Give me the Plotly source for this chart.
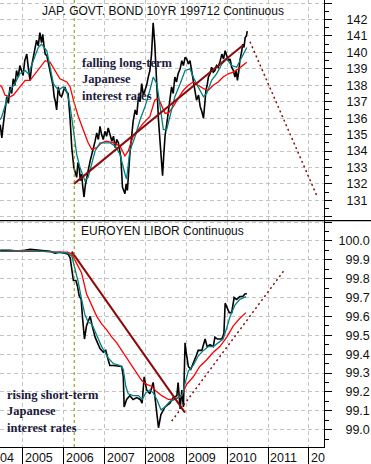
import plotly.graph_objects as go

# ---------------- data (decimal years) ----------------
bond_dates = [2004.45, 2004.49, 2004.52, 2004.57, 2004.61, 2004.65, 2004.69, 2004.73, 2004.77, 2004.81,
              2004.85, 2004.89, 2004.93, 2004.97, 2005.01, 2005.05, 2005.10, 2005.14, 2005.18, 2005.22,
              2005.26, 2005.30, 2005.34, 2005.38, 2005.42, 2005.46, 2005.49, 2005.52, 2005.55, 2005.59,
              2005.63, 2005.67, 2005.71, 2005.74, 2005.77, 2005.80, 2005.83, 2005.87, 2005.91, 2005.95,
              2005.99, 2006.03, 2006.07, 2006.11, 2006.16, 2006.20, 2006.25, 2006.28, 2006.32, 2006.35,
              2006.38, 2006.41, 2006.44, 2006.47, 2006.50, 2006.53, 2006.56, 2006.60, 2006.65, 2006.69,
              2006.73, 2006.77, 2006.81, 2006.85, 2006.89, 2006.93, 2006.97, 2007.01, 2007.05, 2007.09,
              2007.13, 2007.18, 2007.22, 2007.26, 2007.30, 2007.34, 2007.40, 2007.44, 2007.47, 2007.50,
              2007.53, 2007.56, 2007.62, 2007.66, 2007.70, 2007.75, 2007.79, 2007.83, 2007.87, 2007.91,
              2007.95, 2007.99, 2008.03, 2008.07, 2008.11, 2008.15, 2008.19, 2008.23, 2008.28, 2008.32,
              2008.36, 2008.40, 2008.42, 2008.45, 2008.48, 2008.52, 2008.56, 2008.60, 2008.64, 2008.68,
              2008.72, 2008.76, 2008.80, 2008.85, 2008.89, 2008.93, 2008.97, 2009.01, 2009.05, 2009.09,
              2009.13, 2009.17, 2009.21, 2009.25, 2009.30, 2009.34, 2009.38, 2009.42, 2009.45, 2009.48,
              2009.51, 2009.54, 2009.58, 2009.62, 2009.66, 2009.70, 2009.74, 2009.78, 2009.83, 2009.87,
              2009.91, 2009.95, 2009.99, 2010.03, 2010.07, 2010.11, 2010.15, 2010.19, 2010.22, 2010.25,
              2010.28, 2010.31, 2010.35, 2010.38, 2010.41, 2010.44, 2010.47, 2010.49]
bond_price = [135.6, 134.8, 135.5, 136.4, 137.3, 136.9, 137.9, 137.5, 138.4, 138.0,
              138.9, 138.5, 139.2, 138.9, 138.6, 139.5, 139.9, 139.0, 138.3, 139.2,
              139.7, 140.2, 140.75, 140.4, 141.2, 140.6, 141.1, 140.4, 139.9, 139.8,
              139.3, 138.9, 138.3, 138.0, 137.3, 137.0, 136.5, 137.9, 137.4, 137.3,
              137.6, 137.9, 137.6, 137.5, 135.9, 134.2, 133.0, 132.7, 132.4, 133.3,
              133.0, 132.2, 132.6, 131.8, 131.2, 131.9, 132.4, 132.8, 133.4, 133.9,
              134.2, 134.6, 135.1, 134.7, 135.5, 135.0, 134.7, 135.2, 134.9, 135.4,
              135.1, 134.6, 134.9, 134.2, 134.7, 134.5, 133.6, 131.8, 131.6, 131.4,
              132.0, 131.6, 133.8, 134.8, 135.8, 136.5, 136.2, 137.3, 137.0, 138.1,
              137.4, 137.7, 138.0, 138.5, 138.9, 139.9, 141.8, 140.5, 137.5, 135.9,
              134.5, 133.3, 132.5, 133.8, 134.9, 135.6, 136.5, 137.0, 137.9, 137.5,
              138.5, 138.2, 138.7, 139.0, 139.5, 139.2, 139.7, 139.6, 139.3, 139.5,
              138.9, 138.3, 137.7, 137.1, 137.4, 136.7, 136.4, 136.0, 136.8, 137.7,
              138.0, 138.5, 138.7, 139.1, 138.8, 138.9, 139.2, 139.1, 139.5, 139.9,
              139.6, 140.1, 139.8, 139.5, 139.6, 139.1, 138.9, 138.5, 138.9, 138.3,
              138.8, 139.5, 140.0, 140.5, 140.3, 140.9, 141.0, 141.3]

bond_fast_dates = [2004.45, 2004.49, 2004.61, 2004.69, 2004.81, 2004.93, 2005.06, 2005.14, 2005.26, 2005.38,
                   2005.46, 2005.59, 2005.67, 2005.75, 2005.87, 2005.99, 2006.07, 2006.16, 2006.24, 2006.32,
                   2006.40, 2006.52, 2006.60, 2006.69, 2006.77, 2006.89, 2007.01, 2007.13, 2007.26, 2007.38,
                   2007.50, 2007.54, 2007.62, 2007.75, 2007.87, 2007.99, 2008.11, 2008.19, 2008.28, 2008.36,
                   2008.44, 2008.52, 2008.60, 2008.72, 2008.85, 2008.97, 2009.09, 2009.17, 2009.29, 2009.42,
                   2009.50, 2009.62, 2009.74, 2009.87, 2009.99, 2010.11, 2010.23, 2010.35, 2010.48]
bond_fast_avg = [135.9, 136.1, 137.1, 137.7, 138.1, 138.7, 138.9, 138.7, 139.5, 140.3,
                 140.5, 140.1, 139.1, 138.1, 137.7, 137.9, 137.7, 136.7, 135.3, 133.8,
                 133.0, 132.2, 132.4, 133.2, 134.0, 134.5, 134.5, 134.5, 134.3, 133.8,
                 132.6, 132.3, 134.0, 134.9, 135.9, 136.7, 137.7, 138.5, 138.1, 136.7,
                 135.3, 135.3, 136.1, 137.3, 138.1, 138.9, 139.0, 138.5, 137.9, 137.3,
                 137.5, 138.3, 138.7, 139.3, 139.6, 139.2, 139.1, 139.7, 140.3]

bond_slow_dates = [2004.45, 2004.49, 2004.57, 2004.69, 2004.77, 2004.89, 2005.06, 2005.18, 2005.30, 2005.42,
                   2005.55, 2005.67, 2005.79, 2005.91, 2006.08, 2006.16, 2006.24, 2006.36, 2006.48, 2006.60,
                   2006.69, 2006.81, 2006.93, 2007.05, 2007.22, 2007.38, 2007.50, 2007.58, 2007.70, 2007.83,
                   2007.95, 2008.11, 2008.23, 2008.32, 2008.40, 2008.48, 2008.56, 2008.68, 2008.80, 2008.93,
                   2009.05, 2009.17, 2009.29, 2009.42, 2009.54, 2009.66, 2009.78, 2009.90, 2010.03, 2010.15,
                   2010.27, 2010.39, 2010.48]
bond_slow_avg = [138.0, 137.9, 137.4, 137.3, 137.4, 137.8, 138.3, 138.3, 138.7, 139.1,
                 139.5, 139.4, 138.9, 138.4, 138.2, 137.9, 137.1, 136.1, 135.3, 134.5,
                 134.1, 134.2, 134.5, 134.6, 134.5, 134.3, 133.7, 134.0, 134.9, 135.3,
                 135.7, 136.1, 137.1, 137.2, 136.7, 136.3, 136.3, 136.7, 137.2, 137.7,
                 138.0, 138.2, 138.0, 137.8, 137.7, 138.0, 138.2, 138.5, 138.7, 138.8,
                 139.0, 139.2, 139.4]

bond_trend_dates = [2006.254, 2010.394]
bond_trend_vals = [132.0, 140.45]
bond_proj_dates = [2010.557, 2012.188]
bond_proj_vals = [140.65, 131.3]

libor_dates = [2004.45, 2004.49, 2004.69, 2004.93, 2005.18, 2005.42, 2005.67, 2005.79, 2005.91, 2006.03,
               2006.11, 2006.16, 2006.20, 2006.24, 2006.30, 2006.34, 2006.38, 2006.43, 2006.46, 2006.51,
               2006.56, 2006.60, 2006.65, 2006.70, 2006.77, 2006.83, 2006.89, 2006.97, 2007.03, 2007.09,
               2007.13, 2007.22, 2007.34, 2007.42, 2007.46, 2007.48, 2007.54, 2007.62, 2007.70, 2007.79,
               2007.87, 2007.92, 2007.97, 2008.03, 2008.11, 2008.19, 2008.23, 2008.28, 2008.32, 2008.38,
               2008.48, 2008.60, 2008.68, 2008.77, 2008.80, 2008.85, 2008.89, 2008.93, 2008.97, 2008.99,
               2009.05, 2009.11, 2009.17, 2009.24, 2009.29, 2009.38, 2009.46, 2009.51, 2009.58, 2009.66,
               2009.70, 2009.76, 2009.87, 2009.92, 2009.95, 2009.99, 2010.05, 2010.11, 2010.17, 2010.23,
               2010.31, 2010.38, 2010.44, 2010.48]
libor_price = [99.95, 99.95, 99.95, 99.945, 99.955, 99.95, 99.945, 99.935, 99.94, 99.935,
               99.93, 99.91, 99.86, 99.79, 99.79, 99.76, 99.71, 99.69, 99.60, 99.48,
               99.55, 99.57, 99.60, 99.55, 99.49, 99.46, 99.43, 99.41, 99.42, 99.37,
               99.34, 99.34, 99.335, 99.335, 99.28, 99.12, 99.16, 99.18, 99.16, 99.17,
               99.16, 99.14, 99.28, 99.21, 99.19, 99.25, 99.18, 99.07, 99.01, 99.08,
               99.12, 99.14, 99.17, 99.18, 99.25, 99.11, 99.21, 99.12, 99.46, 99.42,
               99.335, 99.32, 99.35, 99.39, 99.42, 99.42, 99.48, 99.44, 99.45, 99.44,
               99.49, 99.48, 99.48, 99.51, 99.67, 99.65, 99.62, 99.62, 99.70, 99.69,
               99.705, 99.705, 99.72, 99.72]

libor_fast_dates = [2004.45, 2005.00, 2005.50, 2005.90, 2006.10, 2006.20, 2006.28, 2006.36, 2006.44, 2006.52,
                    2006.60, 2006.69, 2006.77, 2006.85, 2006.93, 2007.01, 2007.09, 2007.22, 2007.38, 2007.46,
                    2007.52, 2007.58, 2007.70, 2007.83, 2007.92, 2008.01, 2008.11, 2008.19, 2008.28, 2008.38,
                    2008.48, 2008.60, 2008.72, 2008.89, 2008.97, 2009.05, 2009.17, 2009.29, 2009.42, 2009.54,
                    2009.66, 2009.78, 2009.90, 2009.99, 2010.07, 2010.19, 2010.31, 2010.46]
libor_fast_avg = [99.945, 99.95, 99.945, 99.94, 99.935, 99.92, 99.85, 99.78, 99.69, 99.61,
                  99.57, 99.56, 99.52, 99.48, 99.44, 99.41, 99.38, 99.35, 99.34, 99.32,
                  99.23, 99.19, 99.18, 99.18, 99.16, 99.195, 99.21, 99.195, 99.16, 99.105,
                  99.12, 99.15, 99.16, 99.18, 99.25, 99.31, 99.34, 99.39, 99.42, 99.44,
                  99.44, 99.46, 99.48, 99.54, 99.60, 99.66, 99.69, 99.705]

libor_slow_dates = [2004.45, 2005.00, 2005.50, 2005.90, 2006.10, 2006.20, 2006.32, 2006.44, 2006.56, 2006.69,
                    2006.81, 2006.93, 2007.05, 2007.18, 2007.30, 2007.42, 2007.54, 2007.67, 2007.79, 2007.91,
                    2008.03, 2008.15, 2008.28, 2008.40, 2008.56, 2008.72, 2008.89, 2009.01, 2009.17, 2009.33,
                    2009.50, 2009.66, 2009.82, 2009.99, 2010.15, 2010.31, 2010.46]
libor_slow_avg = [99.945, 99.945, 99.945, 99.94, 99.94, 99.93, 99.88, 99.83, 99.72, 99.655,
                  99.60, 99.56, 99.53, 99.49, 99.46, 99.42, 99.38, 99.335, 99.30, 99.26,
                  99.24, 99.23, 99.20, 99.18, 99.16, 99.16, 99.18, 99.24, 99.28, 99.335,
                  99.37, 99.41, 99.44, 99.49, 99.55, 99.59, 99.62]

libor_trend_dates = [2006.198, 2008.968]
libor_trend_vals = [99.943, 99.09]
libor_proj_dates = [2008.643, 2011.413]
libor_proj_vals = [99.045, 99.85]

marker_date = 2006.26

year_ticks = [2005, 2006, 2007, 2008, 2009, 2010, 2011, 2012]
year_labels = ["2005", "2006", "2007", "2008", "2009", "2010", "2011", "20"]
first_year_label = "04"

bond_tickvals = list(range(130, 144))
bond_ticktext = [str(v) if 131 <= v <= 142 else "" for v in bond_tickvals]
libor_tickvals = [round(99.0 + 0.1 * i, 1) for i in range(12)]
libor_ticktext = [("%.1f" % v if v >= 100 else "\u2007%.1f" % v) if v <= 100.0 else "" for v in libor_tickvals]

top_title = "JAP. GOVT. BOND 10YR 199712 Continuous"
bottom_title = "EUROYEN LIBOR Continuous"
top_note = "falling long-term<br>Japanese<br>interest rates"
bottom_note = "rising short-term<br>Japanese<br>interest rates"

# ---------------- styling ----------------
W, H = 371, 464
ML, MR, MT, MB = 0, 47, 0, 17
PW, PH = W - ML - MR, H - MT - MB
split = 1 - 220.7 / PH

BLACK = "#000000"
TEAL = "#008080"
RED = "#ff0000"
MAROON = "#8b0a0a"
OLIVE = "#8c8c00"
GRID = "#c4c4c4"
NOTE = "#1a1a3c"
xrange_ = [2004.445, 2012.367]

fig = go.Figure()


def add_line(x, y, color, width, xa, ya, dash="solid"):
    fig.add_trace(go.Scatter(x=x, y=y, mode="lines", xaxis=xa, yaxis=ya,
                             line=dict(color=color, width=width, dash=dash),
                             hoverinfo="skip", showlegend=False))


add_line(bond_dates, bond_price, BLACK, 1.6, "x", "y")
add_line(bond_slow_dates, bond_slow_avg, RED, 1.3, "x", "y")
add_line(bond_fast_dates, bond_fast_avg, TEAL, 1.3, "x", "y")
add_line(bond_trend_dates, bond_trend_vals, MAROON, 2, "x", "y")
add_line(bond_proj_dates, bond_proj_vals, MAROON, 1.5, "x", "y", dash="2px,3px")

add_line(libor_dates, libor_price, BLACK, 1.6, "x2", "y2")
add_line(libor_slow_dates, libor_slow_avg, RED, 1.3, "x2", "y2")
add_line(libor_fast_dates, libor_fast_avg, TEAL, 1.3, "x2", "y2")
add_line(libor_trend_dates, libor_trend_vals, MAROON, 2, "x2", "y2")
add_line(libor_proj_dates, libor_proj_vals, MAROON, 1.5, "x2", "y2", dash="2px,3px")

tickfont = dict(family="Liberation Sans, Arial, sans-serif", size=12.5, color="#111111")

xcommon = dict(range=xrange_, tickmode="array", tickvals=year_ticks, showgrid=True,
               gridcolor=GRID, griddash="4px,3px", gridwidth=1, zeroline=False)

fig.update_layout(
    width=W, height=H,
    margin=dict(l=ML, r=MR, t=MT, b=MB),
    paper_bgcolor="white", plot_bgcolor="white",
    showlegend=False,
    xaxis=dict(domain=[0, 1], anchor="y", showticklabels=False, ticks="", showline=False, **xcommon),
    xaxis2=dict(domain=[0, 1], anchor="y2", showticklabels=False, ticks="outside", ticklen=MB,
                tickcolor=BLACK, tickwidth=1, showline=True, linecolor=BLACK, linewidth=1, **xcommon),
    yaxis=dict(domain=[split, 1], anchor="x", side="right", range=[129.76, 143.19],
               tickmode="array", tickvals=bond_tickvals, ticktext=bond_ticktext,
               ticks="outside", ticklen=7, tickcolor=BLACK, ticklabelstandoff=12,
               minor=dict(dtick=0.5, tick0=0, ticks="outside", ticklen=4, tickcolor=BLACK, showgrid=False),
               showgrid=True, gridcolor=GRID, griddash="4px,3px", zeroline=False,
               showline=True, linecolor=BLACK, linewidth=1, tickfont=tickfont),
    yaxis2=dict(domain=[0, split], anchor="x2", side="right", range=[98.908, 100.107],
                tickmode="array", tickvals=libor_tickvals, ticktext=libor_ticktext,
                ticks="outside", ticklen=7, tickcolor=BLACK, ticklabelstandoff=4,
                minor=dict(dtick=0.05, tick0=0, ticks="outside", ticklen=4, tickcolor=BLACK, showgrid=False),
                showgrid=True, gridcolor=GRID, griddash="4px,3px", zeroline=False,
                showline=True, linecolor=BLACK, linewidth=1, tickfont=tickfont),
)

# olive vertical marker across both panels
fig.add_shape(type="line", xref="x", yref="paper", x0=marker_date, x1=marker_date, y0=0, y1=1,
              line=dict(color=OLIVE, width=1, dash="3px,3px"))
# panel divider
fig.add_shape(type="line", xref="paper", yref="paper", x0=0, x1=W / PW, y0=split, y1=split,
              line=dict(color=BLACK, width=1.2))

annos = []
annos.append(dict(xref="paper", yref="paper", x=40 / PW, y=1 - 11 / PH, xanchor="left", yanchor="middle",
                  text=top_title, showarrow=False,
                  font=dict(family="Liberation Sans, Arial, sans-serif", size=12, color="#111111")))
annos.append(dict(xref="paper", yref="paper", x=79 / PW, y=1 - 231 / PH, xanchor="left", yanchor="middle",
                  text=bottom_title, showarrow=False,
                  font=dict(family="Liberation Sans, Arial, sans-serif", size=12, color="#111111")))
notefont = dict(family="Liberation Serif, Times New Roman, serif", size=12.5, color=NOTE)
annos.append(dict(xref="paper", yref="paper", x=80 / PW, y=1 - 79 / PH, xanchor="left", yanchor="middle",
                  align="left", text="<b>" + top_note.replace("<br>", "</b><br><b>") + "</b>",
                  showarrow=False, font=notefont))
annos.append(dict(xref="paper", yref="paper", x=5 / PW, y=1 - 411 / PH, xanchor="left", yanchor="middle",
                  align="left", text="<b>" + bottom_note.replace("<br>", "</b><br><b>") + "</b>",
                  showarrow=False, font=notefont))
for yv, lab in zip(year_ticks, year_labels):
    annos.append(dict(xref="x2", yref="paper", x=yv, y=-10.7 / PH, xanchor="left", yanchor="middle",
                      text=lab, showarrow=False, font=tickfont))
annos.append(dict(xref="paper", yref="paper", x=0, y=-10.7 / PH, xanchor="left", yanchor="middle",
                  xshift=-2, text=first_year_label, showarrow=False, font=tickfont))
fig.update_layout(annotations=annos)

fig.write_html("out.html", config={"displayModeBar": False},
               post_script="document.body.style.margin='0';")
